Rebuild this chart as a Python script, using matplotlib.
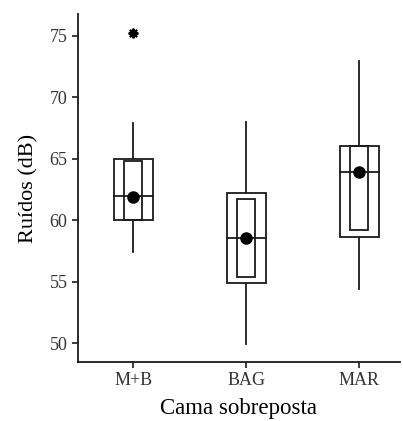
import matplotlib.pyplot as plt

plt.rcParams['font.family'] = ['Liberation Serif', 'DejaVu Serif']

# Data
groups = ['M+B', 'BAG', 'MAR']
whisk_lo = [57.4, 49.9, 54.4]
q1 = [60.0, 54.9, 58.6]
median = [61.95, 58.5, 63.9]
q3 = [65.0, 62.2, 66.05]
whisk_hi = [67.9, 68.0, 72.9]
inner_lo = [60.0, 55.4, 59.2]
inner_hi = [64.8, 61.7, 66.0]
means = [61.9, 58.5, 63.9]
outlier_x = ['M+B']
outlier_y = [75.2]

fig = plt.figure(figsize=(4.03, 4.21), dpi=100)
ax = fig.add_axes([0.1935, 0.14, 0.799, 0.8265])

outer_w = 0.34
inner_w = 0.16
lc = '#1a1a1a'

for i, g in enumerate(groups):
    x = i + 1
    # whiskers
    ax.plot([x, x], [whisk_lo[i], q1[i]], color=lc, lw=1.3, zorder=1)
    ax.plot([x, x], [q3[i], whisk_hi[i]], color=lc, lw=1.3, zorder=1)
    # outer box
    ax.add_patch(plt.Rectangle((x - outer_w / 2, q1[i]), outer_w, q3[i] - q1[i],
                               facecolor='white', edgecolor=lc, lw=1.3, zorder=2))
    # inner box
    ax.add_patch(plt.Rectangle((x - inner_w / 2, inner_lo[i]), inner_w, inner_hi[i] - inner_lo[i],
                               facecolor='none', edgecolor=lc, lw=1.3, zorder=3))
    # median line
    ax.plot([x - outer_w / 2, x + outer_w / 2], [median[i], median[i]], color=lc, lw=1.3, zorder=4)
    # mean point
    ax.plot(x, means[i], 'o', color='black', ms=8, zorder=5)

for g, v in zip(outlier_x, outlier_y):
    ax.plot(groups.index(g) + 1, v, marker=(8, 2, 0), color='black', ms=7, mew=1.5, zorder=5)

ax.set_xlim(0.51, 3.36)
ax.set_ylim(48.45, 76.75)
ax.set_xticks([1, 2, 3])
ax.set_xticklabels(groups)
ax.set_yticks([50, 55, 60, 65, 70, 75])
ax.spines['top'].set_visible(False)
ax.spines['right'].set_visible(False)
for s in ['left', 'bottom']:
    ax.spines[s].set_linewidth(1.3)
    ax.spines[s].set_color(lc)
ax.tick_params(direction='out', length=4, width=1.2, color=lc, labelsize=13, labelcolor='#333333')
ax.set_xlabel('Cama sobreposta', fontsize=16.5, labelpad=6)
ax.set_ylabel('Ruídos (dB)', fontsize=16, labelpad=8)

fig.savefig('out.png', dpi=100)
